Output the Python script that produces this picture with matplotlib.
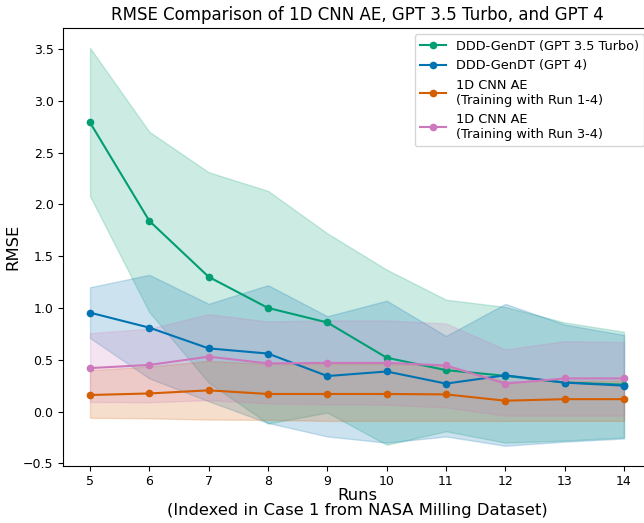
import matplotlib
matplotlib.use("Agg")
import matplotlib.pyplot as plt
import numpy as np

runs = [5, 6, 7, 8, 9, 10, 11, 12, 13, 14]

# DDD-GenDT (GPT 3.5 Turbo)
gpt35_mean = [2.79, 1.84, 1.30, 1.00, 0.86, 0.52, 0.40, 0.345, 0.28, 0.26]
gpt35_upper = [3.51, 2.70, 2.31, 2.13, 1.72, 1.37, 1.08, 1.01, 0.86, 0.77]
gpt35_lower = [2.08, 0.96, 0.28, -0.115, -0.01, -0.32, -0.19, -0.30, -0.28, -0.25]

# DDD-GenDT (GPT 4)
gpt4_mean = [0.955, 0.81, 0.61, 0.56, 0.343, 0.387, 0.27, 0.35, 0.28, 0.25]
gpt4_upper = [1.20, 1.32, 1.04, 1.22, 0.92, 1.07, 0.73, 1.04, 0.84, 0.74]
gpt4_lower = [0.71, 0.32, 0.10, -0.11, -0.24, -0.30, -0.24, -0.33, -0.29, -0.26]

# 1D CNN AE, run 1-4
cnn14_mean = [0.16, 0.175, 0.205, 0.17, 0.17, 0.17, 0.166, 0.105, 0.12, 0.12]
cnn14_upper = [0.40, 0.435, 0.49, 0.46, 0.46, 0.46, 0.45, 0.29, 0.30, 0.30]
cnn14_lower = [-0.06, -0.065, -0.077, -0.08, -0.09, -0.09, -0.09, -0.09, -0.09, -0.09]

# 1D CNN AE, run 3-4
cnn34_mean = [0.42, 0.45, 0.53, 0.465, 0.47, 0.47, 0.445, 0.27, 0.32, 0.32]
cnn34_upper = [0.757, 0.80, 0.94, 0.87, 0.88, 0.88, 0.85, 0.60, 0.68, 0.67]
cnn34_lower = [0.093, 0.09, 0.11, 0.08, 0.07, 0.067, 0.04, -0.04, -0.04, -0.04]

labels = ["DDD-GenDT (GPT 3.5 Turbo)", "DDD-GenDT (GPT 4)",
          "1D CNN AE\n(Training with Run 1-4)", "1D CNN AE\n(Training with Run 3-4)"]
colors = ["#029e73", "#0173b2", "#d55e00", "#cc78bc"]

fig = plt.figure(figsize=(6.44, 5.23), dpi=100)
ax = fig.add_axes([0.0983, 0.1096, 0.9121, 0.8369])

series = [
    (gpt35_mean, gpt35_lower, gpt35_upper),
    (gpt4_mean, gpt4_lower, gpt4_upper),
    (cnn14_mean, cnn14_lower, cnn14_upper),
    (cnn34_mean, cnn34_lower, cnn34_upper),
]

for (m, lo, hi), lab, c in zip(series, labels, colors):
    ax.plot(runs, m, marker="o", markersize=4.5, linewidth=1.5, color=c, label=lab)
    ax.fill_between(runs, lo, hi, color=c, alpha=0.2, linewidth=1)

ax.set_xticks(runs)
ax.tick_params(labelsize=9)
ax.set_title("RMSE Comparison of 1D CNN AE, GPT 3.5 Turbo, and GPT 4", fontsize=12)
ax.set_xlabel("Runs\n(Indexed in Case 1 from NASA Milling Dataset)", fontsize=11.8,
              labelpad=0, linespacing=0.95)
ax.set_ylabel("RMSE", fontsize=11.8, labelpad=2)
ax.legend(loc="upper right", fontsize=9.3)

fig.savefig("out.png", dpi=100)
